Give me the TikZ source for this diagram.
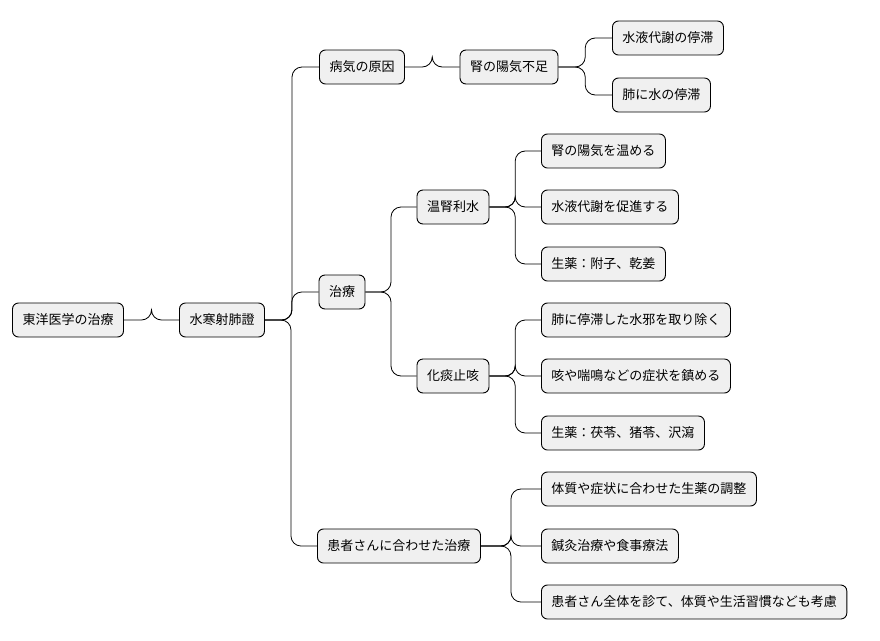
\documentclass[tikz,border=0pt]{standalone}
\usepackage{fontspec}
\setmainfont{Noto Sans CJK JP}
\usetikzlibrary{calc}
\begin{document}
\begin{tikzpicture}[x=1pt,y=-1pt,
  box/.style={draw=black,line width=0.9pt,fill=black!6,rounded corners=6pt,inner xsep=10pt,minimum height=34pt,font=\fontsize{13}{15}\selectfont},
  conn/.style={line width=0.8pt,rounded corners=10pt}]
\useasboundingbox (0,0) rectangle (880,640);
\node[box] (r) at (68,320) {東洋医学の治療};
\node[box] (s) at (222,320) {水寒射肺證};
\node[box] (a) at (362,67) {病気の原因};
\node[box] (a1) at (509,67) {腎の陽気不足};
\node[box,anchor=west] (a11) at (612,38) {水液代謝の停滞};
\node[box,anchor=west] (a12) at (612,95) {肺に水の停滞};
\node[box] (b) at (342,292) {治療};
\node[box] (b1) at (453,207) {温腎利水};
\node[box,anchor=west] (b11) at (541,151) {腎の陽気を温める};
\node[box,anchor=west] (b12) at (541,207) {水液代謝を促進する};
\node[box,anchor=west] (b13) at (541,264) {生薬：附子、乾姜};
\node[box] (b2) at (453,376) {化痰止咳};
\node[box,anchor=west] (b21) at (541,320) {肺に停滞した水邪を取り除く};
\node[box,anchor=west] (b22) at (541,376) {咳や喘鳴などの症状を鎮める};
\node[box,anchor=west] (b23) at (541,433) {生薬：茯苓、猪苓、沢瀉};
\node[box,anchor=west] (c) at (317,546) {患者さんに合わせた治療};
\node[box,anchor=west] (c1) at (541,489) {体質や症状に合わせた生薬の調整};
\node[box,anchor=west] (c2) at (541,546) {鍼灸治療や食事療法};
\node[box,anchor=west] (c3) at (541,602) {患者さん全体を診て、体質や生活習慣なども考慮};
\foreach \p/\c in {r/s,s/a,s/b,s/c,a/a1,a1/a11,a1/a12,b/b1,b/b2,b1/b11,b1/b12,b1/b13,b2/b21,b2/b22,b2/b23,c/c1,c/c2,c/c3}{
  \coordinate (m) at ($(\p.east)!0.5!(\c.west)$);
  \draw[conn] (\p.east) -- (m |- \p.east) -- (m |- \c.west) -- (\c.west);
}
\end{tikzpicture}
\end{document}
